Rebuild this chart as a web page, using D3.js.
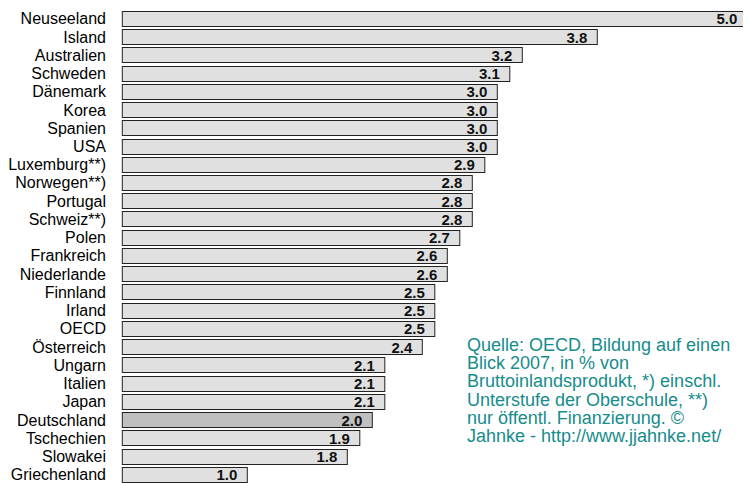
<!DOCTYPE html>
<html>
<head>
<meta charset="utf-8">
<script src="https://cdn.jsdelivr.net/npm/d3@7"></script>
<style>
  body { margin: 0; background: #fff; }
  svg { display: block; font-family: "Liberation Sans", Arial, sans-serif; }
</style>
</head>
<body>
<div id="chart"></div>
<script>
// Bildungsausgaben (Tertiärbereich), % des BIP
var countries = ["Neuseeland", "Island", "Australien", "Schweden", "Dänemark", "Korea", "Spanien", "USA",
  "Luxemburg**)", "Norwegen**)", "Portugal", "Schweiz**)", "Polen", "Frankreich", "Niederlande",
  "Finnland", "Irland", "OECD", "Österreich", "Ungarn", "Italien", "Japan", "Deutschland",
  "Tschechien", "Slowakei", "Griechenland"];
var values = [5.0, 3.8, 3.2, 3.1, 3.0, 3.0, 3.0, 3.0, 2.9, 2.8, 2.8, 2.8, 2.7, 2.6, 2.6,
  2.5, 2.5, 2.5, 2.4, 2.1, 2.1, 2.1, 2.0, 1.9, 1.8, 1.0];
var highlight = ["Deutschland"];
var note = ["Quelle: OECD, Bildung auf einen", "Blick 2007, in % von",
  "Bruttoinlandsprodukt, *) einschl.", "Unterstufe der Oberschule, **)",
  "nur öffentl. Finanzierung. ©", "Jahnke - http://www.jjahnke.net/"];

var width = 748, height = 483;
var data = countries.map(function(c, i) { return { name: c, value: values[i] }; });

var svg = d3.select("#chart").append("svg")
    .attr("width", width)
    .attr("height", height);

// plot area ends at 743, longest bar gets cut there
svg.append("clipPath").attr("id", "plot")
  .append("rect").attr("x", 0).attr("y", 0).attr("width", 743).attr("height", height);

var x = d3.scaleLinear().domain([0, 5]).range([122.3, 747.3]);
var y = d3.scaleBand().domain(countries).range([9.2, 483.4])
    .paddingInner(0.18).paddingOuter(0.09);

var bars = svg.append("g").attr("clip-path", "url(#plot)");
bars.selectAll("rect")
    .data(data)
    .enter().append("rect")
    .attr("x", x(0))
    .attr("y", function(d) { return Math.round(y(d.name)) + 0.5; })
    .attr("width", function(d) { return x(d.value) - x(0); })
    .attr("height", Math.round(y.bandwidth()))
    .attr("fill", function(d) { return highlight.indexOf(d.name) >= 0 ? "#c0c0c0" : "#e0e0e0"; })
    .attr("stroke", "#222")
    .attr("stroke-width", 1);

// values inside bar ends
svg.append("g").selectAll("text")
    .data(data)
    .enter().append("text")
    .attr("x", function(d) { return x(d.value) - 10; })
    .attr("y", function(d) { return y(d.name) + y.bandwidth() / 2 + 6; })
    .attr("text-anchor", "end")
    .attr("font-size", 15)
    .attr("font-weight", "bold")
    .attr("fill", "#111")
    .text(function(d) { return d.value.toFixed(1); });

// category labels
svg.append("g").selectAll("text")
    .data(data)
    .enter().append("text")
    .attr("x", 106)
    .attr("y", function(d) { return y(d.name) + y.bandwidth() / 2 + 6; })
    .attr("text-anchor", "end")
    .attr("font-size", 16)
    .attr("fill", "#000")
    .text(function(d) { return d.name; });

// source note
svg.append("g").selectAll("text")
    .data(note)
    .enter().append("text")
    .attr("x", 467)
    .attr("y", function(d, i) { return 350.7 + i * 18.3; })
    .attr("font-size", 18)
    .attr("fill", "#168c8c")
    .text(function(d) { return d; });
</script>
</body>
</html>
